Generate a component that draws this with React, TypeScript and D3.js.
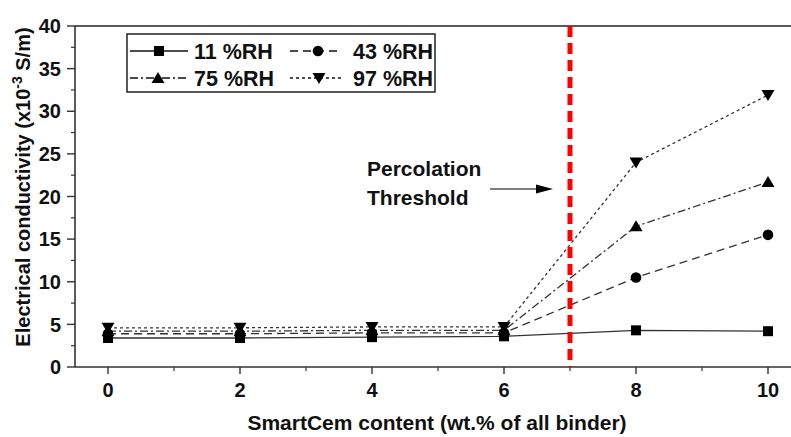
import React from "react";
import * as d3 from "d3";

const contents = [0, 2, 4, 6, 8, 10];
const rh11 = [3.4, 3.4, 3.5, 3.6, 4.3, 4.2];
const rh43 = [3.9, 3.9, 4.0, 4.0, 10.5, 15.5];
const rh75 = [4.2, 4.2, 4.3, 4.3, 16.5, 21.7];
const rh97 = [4.6, 4.6, 4.7, 4.7, 24.0, 31.9];
const seriesNames = ["11 %RH", "43 %RH", "75 %RH", "97 %RH"];
const yTicks = [0, 5, 10, 15, 20, 25, 30, 35, 40];
const xTicks = [0, 2, 4, 6, 8, 10];
const threshold = 7;

const W = 791;
const H = 437;
const FONT = "'Liberation Sans', Arial, sans-serif";

type Marker = "square" | "circle" | "up" | "down";

function MarkerShape({ kind, x, y }: { kind: Marker; x: number; y: number }) {
  if (kind === "square") return <rect x={x - 5} y={y - 5} width={10} height={10} fill="#000" />;
  if (kind === "circle") return <circle cx={x} cy={y} r={5.3} fill="#000" />;
  if (kind === "up")
    return <path d={`M${x},${y - 6} L${x + 6.5},${y + 5} L${x - 6.5},${y + 5}Z`} fill="#000" />;
  return <path d={`M${x},${y + 6} L${x + 6.5},${y - 5} L${x - 6.5},${y - 5}Z`} fill="#000" />;
}

export default function App() {
  const x = d3.scaleLinear().domain([0, 10]).range([108, 768]);
  const y = d3.scaleLinear().domain([0, 40]).range([367, 26]);
  const axisLeft = 75;
  const series = [
    { name: seriesNames[0], values: rh11, marker: "square" as Marker, dash: "none" },
    { name: seriesNames[1], values: rh43, marker: "circle" as Marker, dash: "8,5" },
    { name: seriesNames[2], values: rh75, marker: "up" as Marker, dash: "8,3,2,3" },
    { name: seriesNames[3], values: rh97, marker: "down" as Marker, dash: "3,3" },
  ];
  const line = d3
    .line<[number, number]>()
    .x((d) => x(d[0]))
    .y((d) => y(d[1]));

  const yMinor = d3.range(2.5, 40, 5);
  const xMinor = d3.range(1, 10, 2);

  const legendItems = [
    { s: series[0], lx0: 130, lx1: 188, mx: 159, tx: 194, ty: 51 },
    { s: series[1], lx0: 290, lx1: 341, mx: 318, tx: 353, ty: 51 },
    { s: series[2], lx0: 130, lx1: 188, mx: 158, tx: 194, ty: 78 },
    { s: series[3], lx0: 290, lx1: 341, mx: 319, tx: 353, ty: 78 },
  ];

  return (
    <svg
      width={W}
      height={H}
      style={{ position: "absolute", left: 0, top: 0, background: "#fff" }}
      fontFamily={FONT}
    >
      <rect x={0} y={0} width={W} height={H} fill="#fff" />
      {/* frame */}
      <line x1={axisLeft} x2={W} y1={y(40)} y2={y(40)} stroke="#222" strokeWidth={1.6} />
      <line x1={axisLeft} x2={W} y1={y(0)} y2={y(0)} stroke="#333" strokeWidth={1.6} />
      <line x1={axisLeft} x2={axisLeft} y1={y(40)} y2={y(0)} stroke="#333" strokeWidth={1.6} />
      {/* y ticks */}
      {yTicks.map((t) => (
        <g key={"yt" + t}>
          <line x1={axisLeft - 8} x2={axisLeft} y1={y(t)} y2={y(t)} stroke="#333" strokeWidth={1.4} />
          <text
            x={61}
            y={y(t)}
            dy="0.36em"
            textAnchor="end"
            fontSize={20}
            fontWeight="bold"
            fill="#111"
          >
            {t}
          </text>
        </g>
      ))}
      {yMinor.map((t) => (
        <line key={"ym" + t} x1={axisLeft - 4} x2={axisLeft} y1={y(t)} y2={y(t)} stroke="#333" strokeWidth={1.2} />
      ))}
      {/* x ticks */}
      {xTicks.map((t) => (
        <g key={"xt" + t}>
          <line x1={x(t)} x2={x(t)} y1={y(0)} y2={y(0) + 7} stroke="#333" strokeWidth={1.4} />
          <text x={x(t)} y={397} textAnchor="middle" fontSize={20} fontWeight="bold" fill="#111">
            {t}
          </text>
        </g>
      ))}
      {xMinor.map((t) => (
        <line key={"xm" + t} x1={x(t)} x2={x(t)} y1={y(0)} y2={y(0) + 4} stroke="#333" strokeWidth={1.2} />
      ))}
      {/* axis titles */}
      <text x={437} y={430} textAnchor="middle" fontSize={21} fontWeight="bold" fill="#111">
        SmartCem content (wt.% of all binder)
      </text>
      <text
        transform={`translate(30,187) rotate(-90)`}
        textAnchor="middle"
        fontSize={20}
        fontWeight="bold"
        fill="#111"
      >
        Electrical conductivity (x10
        <tspan dy={-8} fontSize={14}>
          -3
        </tspan>
        <tspan dy={8}> S/m)</tspan>
      </text>
      {/* series */}
      {series.map((s) => (
        <path
          key={s.name}
          d={line(contents.map((c, i) => [c, s.values[i]]) as [number, number][]) || ""}
          fill="none"
          stroke="#333"
          strokeWidth={1.3}
          strokeDasharray={s.dash}
        />
      ))}
      {series.map((s) =>
        contents.map((c, i) => (
          <MarkerShape key={s.name + c} kind={s.marker} x={x(c)} y={y(s.values[i])} />
        ))
      )}
      {/* threshold line */}
      <line
        x1={x(threshold)}
        x2={x(threshold)}
        y1={y(40)}
        y2={y(0)}
        stroke="#ff0000"
        strokeWidth={5}
        strokeDasharray="11,6"
      />
      {/* annotation */}
      <text x={367} y={176} fontSize={21} fontWeight="bold" fill="#111">
        Percolation
      </text>
      <text x={367} y={205} fontSize={21} fontWeight="bold" fill="#111">
        Threshold
      </text>
      <line x1={490} x2={538} y1={189} y2={189} stroke="#555" strokeWidth={1.3} />
      <path d="M553,189 L536,184.5 L536,193.5Z" fill="#000" />
      {/* legend */}
      <rect x={127} y={34} width={308} height={58} fill="#fff" stroke="#222" strokeWidth={1.5} />
      {legendItems.map((it) => (
        <g key={"lg" + it.s.name}>
          <line
            x1={it.lx0}
            x2={it.lx1}
            y1={it.ty}
            y2={it.ty}
            stroke="#111"
            strokeWidth={1.3}
            strokeDasharray={it.s.dash}
          />
          <MarkerShape kind={it.s.marker} x={it.mx} y={it.ty} />
          <text x={it.tx} y={it.ty} dy="0.36em" fontSize={21.5} fontWeight="bold" fill="#111">
            {it.s.name}
          </text>
        </g>
      ))}
    </svg>
  );
}
